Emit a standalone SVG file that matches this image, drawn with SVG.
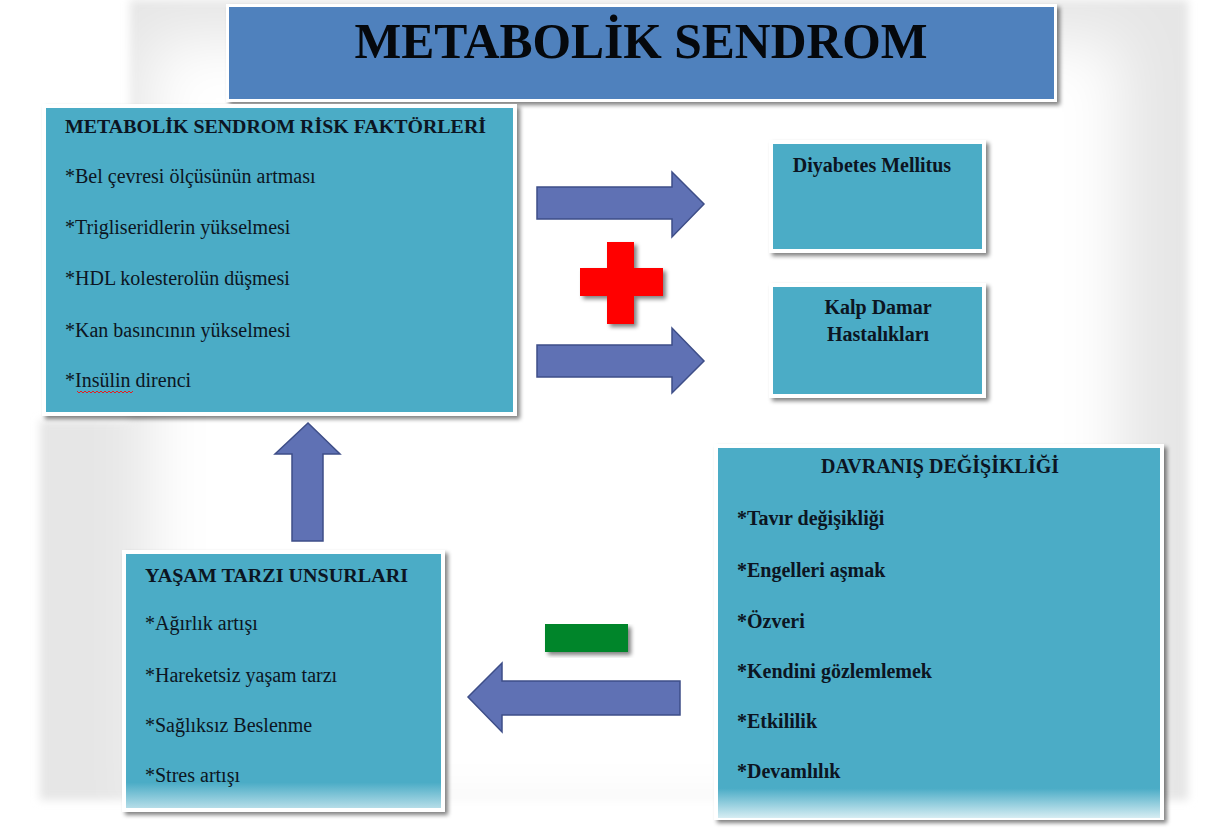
<svg xmlns="http://www.w3.org/2000/svg" width="1231" height="832" viewBox="0 0 1231 832">
<defs>
<style>
.frame{fill:#ffffff;filter:url(#shadow);}
.teal{fill:#4BACC6;}
.t{font-family:"Liberation Serif","Times New Roman",serif;fill:#0c1522;font-size:20px;}
.b{font-weight:bold;}
.arrow{fill:#5F71B4;stroke:#3E4E88;stroke-width:1.5;stroke-linejoin:miter;}
</style>
<filter id="shadow" x="-10%" y="-10%" width="125%" height="130%">
<feGaussianBlur in="SourceAlpha" stdDeviation="2"/>
<feOffset dx="3" dy="3" result="o"/>
<feComponentTransfer><feFuncA type="linear" slope="0.5"/></feComponentTransfer>
<feMerge><feMergeNode/><feMergeNode in="SourceGraphic"/></feMerge>
</filter>
<filter id="soft" x="-20%" y="-20%" width="140%" height="140%">
<feGaussianBlur stdDeviation="4"/>
</filter>
<filter id="glow" x="-30%" y="-30%" width="160%" height="160%">
<feGaussianBlur stdDeviation="30"/>
</filter>
<linearGradient id="fadeL" x1="0" y1="0" x2="0" y2="1">
<stop offset="0" stop-color="#4BACC6"/>
<stop offset="0.9" stop-color="#4BACC6"/>
<stop offset="1" stop-color="#B5DDE8"/>
</linearGradient>
<linearGradient id="fadeB" x1="0" y1="0" x2="0" y2="1">
<stop offset="0" stop-color="#4BACC6"/>
<stop offset="0.92" stop-color="#4BACC6"/>
<stop offset="1" stop-color="#D6EDF3"/>
</linearGradient>
</defs>

<rect x="0" y="0" width="1231" height="832" fill="#ffffff"/>
<g id="background-halo">
<path d="M130,0 H1188 V800 H40 V420 H130 Z" fill="#e6e6e6" filter="url(#soft)"/>
<rect x="150" y="40" width="970" height="780" fill="#ffffff" filter="url(#glow)"/>
</g>

<g id="title">
<rect class="frame" x="226" y="4" width="831" height="98"/>
<rect x="229" y="7" width="825" height="92" fill="#4F81BD"/>
<text class="t b" x="641" y="58" text-anchor="middle" textLength="573" lengthAdjust="spacingAndGlyphs" style="font-size:50px;fill:#05080c">METABOLİK SENDROM</text>
</g>

<g id="risk-factors">
<rect class="frame" x="42" y="104" width="475" height="312"/>
<rect class="teal" x="46" y="108" width="467" height="304"/>
<text class="t b" x="65" y="133" textLength="421" lengthAdjust="spacingAndGlyphs" style="font-size:19px">METABOLİK SENDROM RİSK FAKTÖRLERİ</text>
<text class="t" x="65" y="183">*Bel çevresi ölçüsünün artması</text>
<text class="t" x="65" y="234">*Trigliseridlerin yükselmesi</text>
<text class="t" x="65" y="285">*HDL kolesterolün düşmesi</text>
<text class="t" x="65" y="337">*Kan basıncının yükselmesi</text>
<text class="t" x="65" y="387">*Insülin direnci</text>
<path d="M77,391 l2,2 l2,-2 l2,2 l2,-2 l2,2 l2,-2 l2,2 l2,-2 l2,2 l2,-2 l2,2 l2,-2 l2,2 l2,-2 l2,2 l2,-2 l2,2 l2,-2 l2,2 l2,-2 l2,2 l2,-2 l2,2 l2,-2 l2,2 l2,-2 l2,2 l2,-2" fill="none" stroke="#e02020" stroke-width="1"/>
</g>

<g id="diabetes">
<rect class="frame" x="769" y="140" width="217" height="113"/>
<rect class="teal" x="773" y="144" width="209" height="105"/>
<text class="t b" x="872" y="172" text-anchor="middle">Diyabetes Mellitus</text>
</g>

<g id="cardiovascular">
<rect class="frame" x="769" y="283" width="217" height="115"/>
<rect class="teal" x="773" y="287" width="209" height="107"/>
<text class="t b" x="878" y="314" text-anchor="middle">Kalp Damar</text>
<text class="t b" x="878" y="341" text-anchor="middle">Hastalıkları</text>
</g>

<g id="lifestyle">
<rect class="frame" x="122" y="550" width="323" height="262"/>
<rect x="126" y="554" width="315" height="254" fill="url(#fadeL)"/>
<text class="t b" x="145" y="582" textLength="263" lengthAdjust="spacingAndGlyphs" style="font-size:19px">YAŞAM TARZI UNSURLARI</text>
<text class="t" x="145" y="630">*Ağırlık artışı</text>
<text class="t" x="145" y="682">*Hareketsiz yaşam tarzı</text>
<text class="t" x="145" y="732">*Sağlıksız Beslenme</text>
<text class="t" x="145" y="782">*Stres artışı</text>
</g>

<g id="behavior-change">
<rect class="frame" x="714" y="444" width="450" height="376"/>
<rect x="718" y="448" width="442" height="370" fill="url(#fadeB)"/>
<text class="t b" x="940" y="473" text-anchor="middle">DAVRANIŞ DEĞİŞİKLİĞİ</text>
<text class="t b" x="737" y="525">*Tavır değişikliği</text>
<text class="t b" x="737" y="577">*Engelleri aşmak</text>
<text class="t b" x="737" y="628">*Özveri</text>
<text class="t b" x="737" y="678">*Kendini gözlemlemek</text>
<text class="t b" x="737" y="728">*Etkililik</text>
<text class="t b" x="737" y="778">*Devamlılık</text>
</g>

<g id="plus-sign" filter="url(#shadow)">
<path d="M607,242 H634 V268 H663 V296 H634 V324 H607 V296 H580 V268 H607 Z" fill="#FF0000"/>
</g>

<g id="minus-sign" filter="url(#shadow)">
<rect x="545" y="624" width="83" height="28" fill="#05852B"/>
</g>

<g id="connectors">
<path class="arrow" d="M537,187 H672 V172 L704,204 L672,237 V219 H537 Z"/>
<path class="arrow" d="M537,345 H672 V328 L704,361 L672,393 V377 H537 Z"/>
<path class="arrow" d="M292,541 V454 H275 L308,423 L340,454 H323 V541 Z"/>
<path class="arrow" d="M680,681 H502 V663 L468,697 L502,732 V715 H680 Z"/>
</g>
</svg>
